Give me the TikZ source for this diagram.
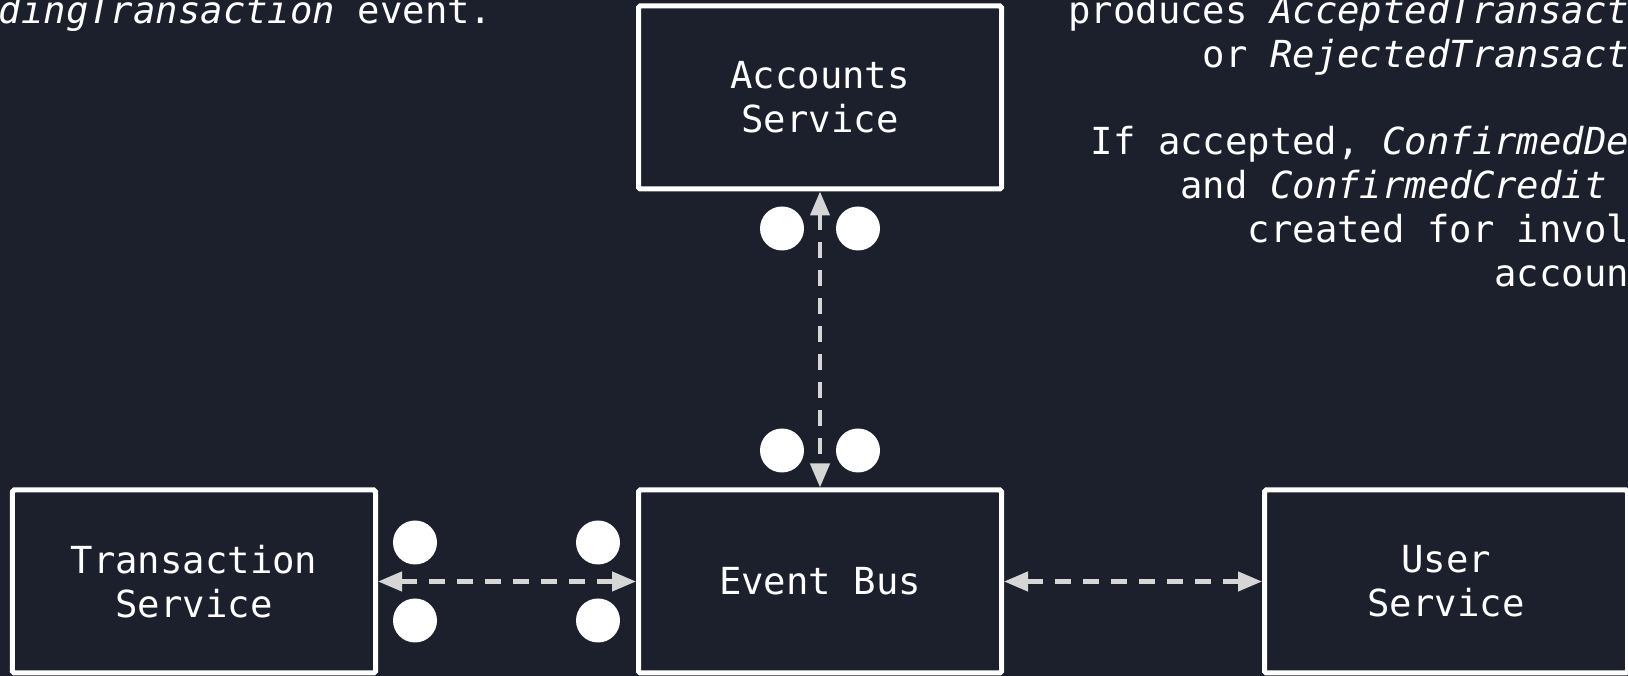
\documentclass[tikz,border=0pt]{standalone}
\usepackage{fontspec}
\setmonofont{DejaVu Sans Mono}
\usetikzlibrary{positioning,arrows.meta}
\definecolor{boardbg}{HTML}{1C202C}
\definecolor{linkgray}{HTML}{D6D6D6}
\tikzset{
  every node/.style={
    font=\ttfamily\fontsize{10.6pt}{12.5pt}\selectfont,
    text=white
  },
  service/.style={
    shape=rectangle,
    draw=white,
    line width=0.05cm,
    rounded corners=0.5pt,
    fill=boardbg,
    minimum width=3.63cm,
    minimum height=1.83cm,
    align=center
  },
  token/.style={
    shape=circle,
    fill=white,
    inner sep=0pt,
    minimum size=0.44cm
  },
  note/.style={
    inner sep=0pt
  },
  link/.style={
    draw=linkgray,
    line width=0.043cm,
    dash pattern=on 0.16cm off 0.12cm,
    {Triangle[length=0.24cm,width=0.19cm]}-{Triangle[length=0.24cm,width=0.19cm]}
  }
}

\begin{document}
\begin{tikzpicture}

\useasboundingbox (0,0) rectangle (16.28,6.76);
\fill [boardbg] (0,0) rectangle (16.28,6.76);
\clip (0,0) rectangle (16.28,6.76);

% services around the bus
\node [service] (bus) at (8.2,0.945) {Event Bus};
\node [service, above=2.96cm of bus] (accounts) {Accounts\\Service};
\node [service, left=2.58cm of bus] (transaction) {Transaction\\Service};
\node [service, right=2.58cm of bus] (user) {User\\Service};

\draw [link] (accounts) -- (bus);
\draw [link] (transaction) -- (bus);
\draw [link] (bus) -- (user);

% events in flight
\path (accounts.south) ++(-0.38,-0.37) node [token] (acc-l) {};
\path (accounts.south) ++(0.38,-0.37) node [token] (acc-r) {};
\path (bus.north) ++(-0.38,0.37) node [token] (bus-l) {};
\path (bus.north) ++(0.38,0.37) node [token] (bus-r) {};
\path (transaction.east) ++(0.37,0.39) node [token] (tx-up) {};
\path (transaction.east) ++(0.37,-0.39) node [token] (tx-down) {};
\path (bus.west) ++(-0.38,0.39) node [token] (bw-up) {};
\path (bus.west) ++(-0.38,-0.39) node [token] (bw-down) {};

% notes (base is the last line here)
\node [note, anchor=base east] (pending) at (4.93,6.52)
  {{\itshape PendingTransaction} event.};
\node [note, align=right, anchor=base east] (outcome) at (16.97,3.893)
  {produces {\itshape AcceptedTransaction}\\
   or {\itshape RejectedTransaction}\\[12.5pt]
   If accepted, {\itshape ConfirmedDebit}\\
   and {\itshape ConfirmedCredit} are\\
   created for involved\\
   accounts.};

\end{tikzpicture}
\end{document}
